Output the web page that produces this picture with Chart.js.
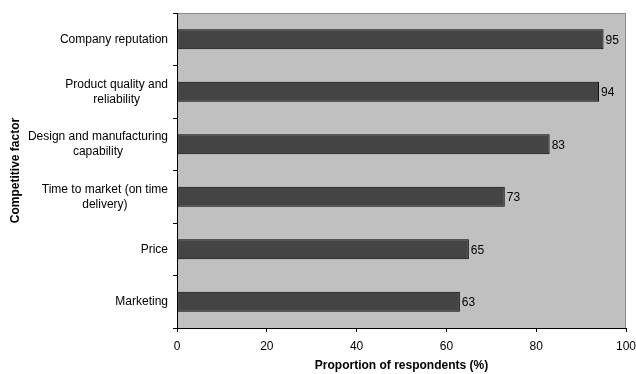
<!DOCTYPE html>
<html>
<head>
<meta charset="utf-8">
<script src="https://cdn.jsdelivr.net/npm/chart.js@4/dist/chart.umd.min.js"></script>
<style>
  html, body { margin: 0; padding: 0; background: #fff; }
  #wrap { width: 636px; height: 374px; position: relative; }
</style>
</head>
<body>
<div id="wrap"><canvas id="c" width="636" height="374"></canvas></div>
<script>
// Competitive factors, top to bottom
const factors = [
  ["Company reputation"],
  ["Product quality and", "reliability"],
  ["Design and manufacturing", "capability"],
  ["Time to market (on time", "delivery)"],
  ["Price"],
  ["Marketing"]
];
// Share of respondents naming each factor (%)
const shares = [95, 94, 83, 73, 65, 63];
const xTicks = [0, 20, 40, 60, 80, 100];

const FONT = "'Liberation Sans', Arial, sans-serif";

// Grey plot background with a thin frame on the top and right
const plotBackground = {
  id: 'plotBackground',
  beforeDraw(chart) {
    const { ctx, chartArea: a } = chart;
    ctx.save();
    ctx.fillStyle = '#c0c0c0';
    ctx.fillRect(a.left, a.top, a.right - a.left, a.bottom - a.top);
    ctx.strokeStyle = '#8a8a8a';
    ctx.lineWidth = 1;
    ctx.beginPath();
    ctx.moveTo(a.left, a.top + 0.5);
    ctx.lineTo(a.right - 0.5, a.top + 0.5);
    ctx.lineTo(a.right - 0.5, a.bottom);
    ctx.stroke();
    ctx.restore();
  }
};

// Category names: each block right-aligned to the axis, lines centred within it
const factorLabels = {
  id: 'factorLabels',
  afterDraw(chart) {
    const { ctx } = chart;
    const y = chart.scales.y;
    const lineH = 15;
    ctx.save();
    ctx.font = '12px ' + FONT;
    ctx.fillStyle = '#000';
    ctx.textBaseline = 'middle';
    ctx.textAlign = 'center';
    factors.forEach((lines, i) => {
      const cy = y.getPixelForValue(i);
      const w = Math.max(...lines.map(l => ctx.measureText(l).width));
      const cx = y.right - 9 - w / 2;
      const y0 = cy - (lines.length - 1) * lineH / 2;
      lines.forEach((l, k) => ctx.fillText(l, cx, y0 + k * lineH));
    });
    ctx.restore();
  }
};

// Value printed just past the end of each bar
const valueLabels = {
  id: 'valueLabels',
  afterDatasetsDraw(chart) {
    const { ctx } = chart;
    const meta = chart.getDatasetMeta(0);
    ctx.save();
    ctx.font = '12px ' + FONT;
    ctx.fillStyle = '#000';
    ctx.textBaseline = 'middle';
    ctx.textAlign = 'left';
    meta.data.forEach((bar, i) => {
      ctx.fillText(String(shares[i]), bar.x + 2, bar.y + 1);
    });
    ctx.restore();
  }
};

new Chart(document.getElementById('c'), {
  type: 'bar',
  data: {
    labels: factors.map(f => f.join(' ')),
    datasets: [{
      data: shares,
      backgroundColor: '#444444',
      borderColor: '#000000',
      borderWidth: 1,
      borderSkipped: false,
      barPercentage: 0.4,
      categoryPercentage: 0.95
    }]
  },
  options: {
    indexAxis: 'y',
    responsive: false,
    animation: false,
    devicePixelRatio: 1,
    layout: { padding: { top: 13, right: 10, bottom: 0, left: 0 } },
    plugins: {
      legend: { display: false },
      tooltip: { enabled: false }
    },
    scales: {
      x: {
        min: 0,
        max: 100,
        afterBuildTicks(scale) {
          scale.ticks = xTicks.map(v => ({ value: v }));
        },
        afterFit(scale) {
          scale.height = 46;
          // let the last tick label run past the canvas edge
          scale.paddingRight = 0;
          scale.paddingLeft = 0;
        },
        grid: {
          drawOnChartArea: false,
          drawTicks: true,
          tickLength: 4,
          color: '#000'
        },
        border: { display: true, color: '#000', width: 1 },
        ticks: {
          color: '#000',
          font: { family: FONT, size: 12 },
          padding: 7,
          maxRotation: 0
        },
        title: {
          display: true,
          text: 'Proportion of respondents (%)',
          color: '#000',
          font: { family: FONT, size: 12, weight: 'bold' },
          padding: { top: 0, bottom: 1 }
        }
      },
      y: {
        afterFit(scale) { scale.width = 177; },
        grid: {
          drawOnChartArea: false,
          drawTicks: true,
          tickLength: 4,
          offset: true,
          color: '#000'
        },
        border: { display: true, color: '#000', width: 1 },
        ticks: { display: false },
        title: {
          display: true,
          text: 'Competitive factor',
          color: '#000',
          font: { family: FONT, size: 12, weight: 'bold' },
          padding: { top: 8, bottom: 0 }
        }
      }
    }
  },
  plugins: [plotBackground, factorLabels, valueLabels]
});
</script>
</body>
</html>
